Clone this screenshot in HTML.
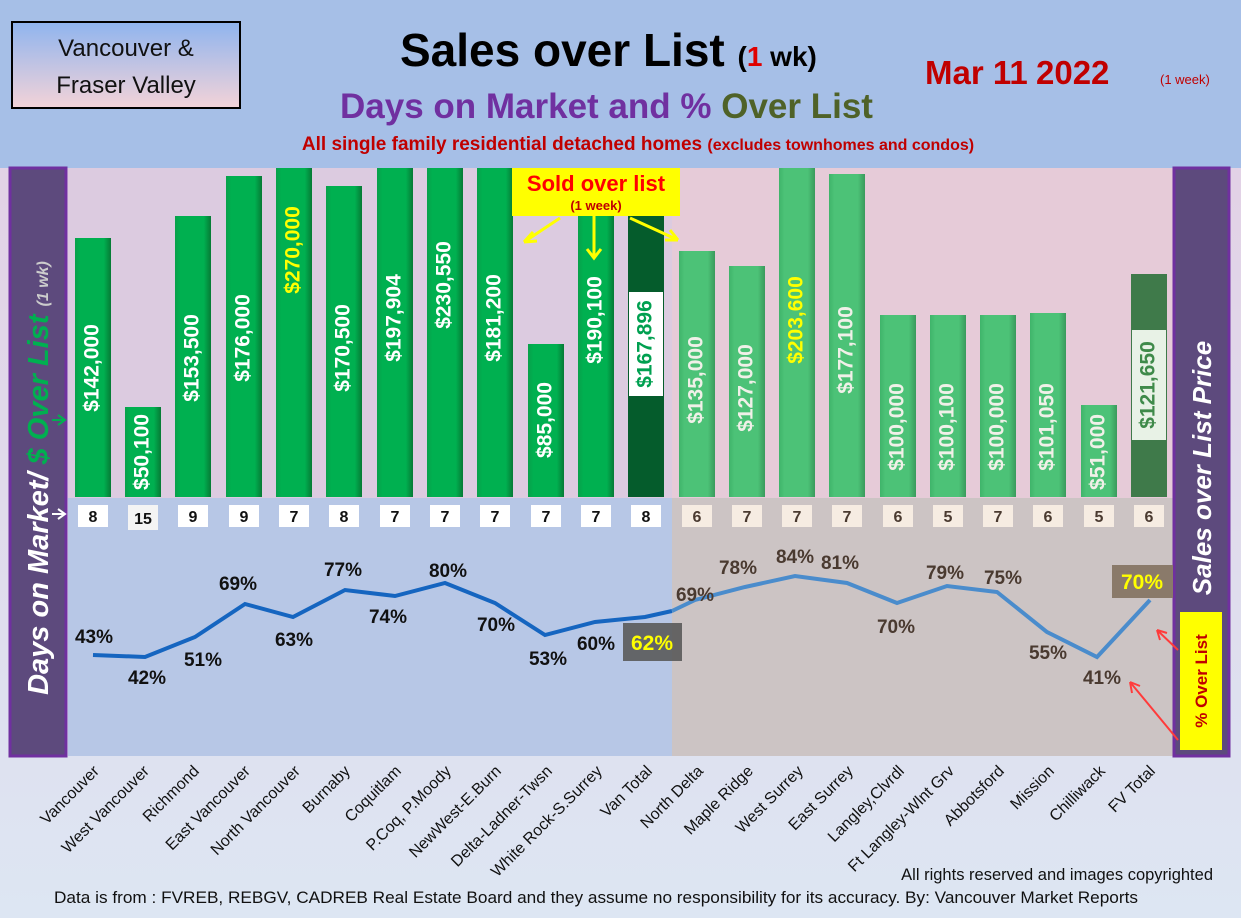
<!DOCTYPE html>
<html><head><meta charset="utf-8"><style>
html,body{margin:0;padding:0;background:#fff}
svg{display:block;font-family:"Liberation Sans",Arial,sans-serif}
.bl{font-weight:bold;font-size:21px;fill:#fff;text-anchor:middle;dominant-baseline:middle}
.d{font-weight:bold;font-size:16px;text-anchor:middle;fill:#111}
.p{font-weight:bold;font-size:19px;text-anchor:middle;fill:#111}
.pr{font-weight:bold;font-size:19px;text-anchor:middle;fill:#4a3a30}
.x{font-size:16px;text-anchor:end;fill:#111}
</style></head><body>
<svg width="1241" height="918" viewBox="0 0 1241 918" xmlns="http://www.w3.org/2000/svg">
<defs>
<linearGradient id="bg" x1="0" y1="0" x2="0" y2="1"><stop offset="0" stop-color="#e3cde3"/><stop offset="1" stop-color="#dde6f3"/></linearGradient>
<linearGradient id="g1" x1="0" x2="1"><stop offset="0" stop-color="#08a04a"/><stop offset="0.15" stop-color="#00b050"/><stop offset="0.8" stop-color="#00b050"/><stop offset="1" stop-color="#067a35"/></linearGradient>
<linearGradient id="g2" x1="0" x2="1"><stop offset="0" stop-color="#3fb46a"/><stop offset="0.15" stop-color="#4cc277"/><stop offset="0.8" stop-color="#4cc277"/><stop offset="1" stop-color="#3a9a5c"/></linearGradient>
<linearGradient id="hb" x1="0" y1="0" x2="0" y2="1"><stop offset="0" stop-color="#8fb4ee"/><stop offset="1" stop-color="#f3d3d8"/></linearGradient>
</defs>
<rect width="1241" height="918" fill="url(#bg)"/>
<rect x="0" y="0" width="1241" height="168" fill="#a6bfe7"/>
<rect x="12" y="22" width="228" height="86" fill="url(#hb)" stroke="#000" stroke-width="2"/>
<text x="126" y="56" font-size="24" text-anchor="middle" fill="#111">Vancouver &amp;</text>
<text x="126" y="93" font-size="24" text-anchor="middle" fill="#111">Fraser Valley</text>
<text x="400" y="66" font-size="46" font-weight="bold" fill="#000">Sales over List <tspan font-size="28">(<tspan fill="#e00000">1</tspan> wk)</tspan></text>
<text x="340" y="118" font-size="35" font-weight="bold" fill="#7030a0">Days on Market and % <tspan fill="#4f6228">Over List</tspan></text>
<text x="638" y="150" font-size="19" font-weight="bold" fill="#c00000" text-anchor="middle">All single family residential detached homes <tspan font-size="16">(excludes townhomes and condos)</tspan></text>
<text x="925" y="84" font-size="33" font-weight="bold" fill="#c00000">Mar 11</text>
<text x="1036" y="84" font-size="33" font-weight="bold" fill="#c00000">2022</text>
<text x="1160" y="84" font-size="13" fill="#c00000">(1 week)</text>
<rect x="68" y="168" width="1105" height="330" fill="#dccbe0"/>
<rect x="672" y="168" width="501" height="330" fill="#e6cbd8"/>
<rect x="68" y="498" width="604" height="258" fill="#b7c7e6"/>
<rect x="672" y="498" width="501" height="258" fill="#ccc4c4"/>
<rect x="10" y="168" width="56" height="588" fill="#5d4a7d" stroke="#7030a0" stroke-width="3"/>
<rect x="1174" y="168" width="55" height="588" fill="#5d4a7d" stroke="#7030a0" stroke-width="3"/>
<text transform="translate(48,478) rotate(-90)" text-anchor="middle" font-size="29" font-weight="bold" font-style="italic" fill="#fff">Days on Market/ <tspan fill="#00b050">$ Over List</tspan> <tspan font-size="16" fill="#ccc">(1 wk)</tspan></text>
<text transform="translate(1211,468) rotate(-90)" text-anchor="middle" font-size="26" font-weight="bold" font-style="italic" fill="#fff">Sales over List Price</text>
<g>
<rect x="75" y="238" width="36" height="259" fill="url(#g1)"/>
<rect x="125" y="407" width="36" height="90" fill="url(#g1)"/>
<rect x="175" y="216" width="36" height="281" fill="url(#g1)"/>
<rect x="226" y="176" width="36" height="321" fill="url(#g1)"/>
<rect x="276" y="168" width="36" height="329" fill="url(#g1)"/>
<rect x="326" y="186" width="36" height="311" fill="url(#g1)"/>
<rect x="377" y="168" width="36" height="329" fill="url(#g1)"/>
<rect x="427" y="168" width="36" height="329" fill="url(#g1)"/>
<rect x="477" y="168" width="36" height="329" fill="url(#g1)"/>
<rect x="528" y="344" width="36" height="153" fill="url(#g1)"/>
<rect x="578" y="168" width="36" height="329" fill="url(#g1)"/>
<rect x="628" y="168" width="36" height="329" fill="#055c2c"/>
<rect x="679" y="251" width="36" height="246" fill="url(#g2)"/>
<rect x="729" y="266" width="36" height="231" fill="url(#g2)"/>
<rect x="779" y="168" width="36" height="329" fill="url(#g2)"/>
<rect x="829" y="174" width="36" height="323" fill="url(#g2)"/>
<rect x="880" y="315" width="36" height="182" fill="url(#g2)"/>
<rect x="930" y="315" width="36" height="182" fill="url(#g2)"/>
<rect x="980" y="315" width="36" height="182" fill="url(#g2)"/>
<rect x="1030" y="313" width="36" height="184" fill="url(#g2)"/>
<rect x="1081" y="405" width="36" height="92" fill="url(#g2)"/>
<rect x="1131" y="274" width="36" height="223" fill="#3f7a4a"/>
<rect x="629" y="292" width="34" height="104" fill="#fff"/>
<rect x="1132" y="330" width="34" height="110" fill="#e8f2e6"/>
</g>
<g class="bl">
<text transform="translate(93,368) rotate(-90)">$142,000</text>
<text transform="translate(143,452) rotate(-90)">$50,100</text>
<text transform="translate(193,358) rotate(-90)">$153,500</text>
<text transform="translate(244,338) rotate(-90)">$176,000</text>
<text transform="translate(294,250) rotate(-90)" fill="#ffff00">$270,000</text>
<text transform="translate(344,348) rotate(-90)">$170,500</text>
<text transform="translate(395,318) rotate(-90)">$197,904</text>
<text transform="translate(445,285) rotate(-90)">$230,550</text>
<text transform="translate(495,318) rotate(-90)">$181,200</text>
<text transform="translate(546,420) rotate(-90)">$85,000</text>
<text transform="translate(596,320) rotate(-90)">$190,100</text>
<text transform="translate(646,344) rotate(-90)" fill="#00a050">$167,896</text>
<text transform="translate(697,380) rotate(-90)" fill="#f0f0e8">$135,000</text>
<text transform="translate(747,388) rotate(-90)" fill="#f0f0e8">$127,000</text>
<text transform="translate(797,320) rotate(-90)" fill="#ffff00">$203,600</text>
<text transform="translate(847,350) rotate(-90)" fill="#f0f0e8">$177,100</text>
<text transform="translate(898,427) rotate(-90)" fill="#f0f0e8">$100,000</text>
<text transform="translate(948,427) rotate(-90)" fill="#f0f0e8">$100,100</text>
<text transform="translate(998,427) rotate(-90)" fill="#f0f0e8">$100,000</text>
<text transform="translate(1048,427) rotate(-90)" fill="#f0f0e8">$101,050</text>
<text transform="translate(1099,452) rotate(-90)" fill="#f0f0e8">$51,000</text>
<text transform="translate(1149,385) rotate(-90)" fill="#3f8a4a">$121,650</text>
</g>
<rect x="512" y="168" width="168" height="48" fill="#ffff00"/>
<text x="596" y="191" font-size="22" font-weight="bold" fill="#ff0000" text-anchor="middle">Sold over list</text>
<text x="596" y="210" font-size="13" font-weight="bold" fill="#c00000" text-anchor="middle">(1 week)</text>
<g stroke="#ffff00" stroke-width="3" fill="none">
<path d="M560 218 L524 242 M524 242 L533 232 M524 242 L537 241"/>
<path d="M594 216 L594 258 M587 249 L594 258 L601 249"/>
<path d="M630 218 L678 240 M678 240 L665 240 M678 240 L670 230"/>
</g>
<path d="M52 420 L64 420 M58 415 L65 420 L58 425" stroke="#00b050" stroke-width="2" fill="none"/>
<path d="M52 514 L64 514 M58 509 L65 514 L58 519" stroke="#fff" stroke-width="2" fill="none"/>
<g>
<rect x="78" y="505" width="30" height="22" fill="#fff"/><rect x="128" y="505" width="30" height="25" fill="#f4f4f4"/><rect x="178" y="505" width="30" height="22" fill="#fff"/><rect x="229" y="505" width="30" height="22" fill="#fff"/><rect x="279" y="505" width="30" height="22" fill="#fff"/><rect x="329" y="505" width="30" height="22" fill="#fff"/><rect x="380" y="505" width="30" height="22" fill="#fff"/><rect x="430" y="505" width="30" height="22" fill="#fff"/><rect x="480" y="505" width="30" height="22" fill="#fff"/><rect x="531" y="505" width="30" height="22" fill="#fff"/><rect x="581" y="505" width="30" height="22" fill="#fff"/><rect x="631" y="505" width="30" height="22" fill="#fff"/>
<rect x="682" y="505" width="30" height="22" fill="#f6ece2"/><rect x="732" y="505" width="30" height="22" fill="#f6ece2"/><rect x="782" y="505" width="30" height="22" fill="#f6ece2"/><rect x="832" y="505" width="30" height="22" fill="#f6ece2"/><rect x="883" y="505" width="30" height="22" fill="#f6ece2"/><rect x="933" y="505" width="30" height="22" fill="#f6ece2"/><rect x="983" y="505" width="30" height="22" fill="#f6ece2"/><rect x="1033" y="505" width="30" height="22" fill="#f6ece2"/><rect x="1084" y="505" width="30" height="22" fill="#f6ece2"/><rect x="1134" y="505" width="30" height="22" fill="#f6ece2"/>
</g>
<g class="d">
<text x="93" y="522">8</text><text x="143" y="524">15</text><text x="193" y="522">9</text><text x="244" y="522">9</text><text x="294" y="522">7</text><text x="344" y="522">8</text><text x="395" y="522">7</text><text x="445" y="522">7</text><text x="495" y="522">7</text><text x="546" y="522">7</text><text x="596" y="522">7</text><text x="646" y="522">8</text>
<text x="697" y="522" fill="#4a3a30">6</text><text x="747" y="522" fill="#4a3a30">7</text><text x="797" y="522" fill="#4a3a30">7</text><text x="847" y="522" fill="#4a3a30">7</text><text x="898" y="522" fill="#4a3a30">6</text><text x="948" y="522" fill="#4a3a30">5</text><text x="998" y="522" fill="#4a3a30">7</text><text x="1048" y="522" fill="#4a3a30">6</text><text x="1099" y="522" fill="#4a3a30">5</text><text x="1149" y="522" fill="#4a3a30">6</text>
</g>
<polyline points="93,655 145,657 195,637 245,604 293,617 345,590 395,596 445,583 495,603 545,635 595,622 645,617 672,611" fill="none" stroke="#1565c0" stroke-width="4"/>
<polyline points="672,611 695,600 745,587 795,576 847,583 897,603 947,586 997,592 1047,632 1097,657 1150,600" fill="none" stroke="#4a8ccc" stroke-width="4"/>
<g class="p">
<text x="94" y="643">43%</text><text x="147" y="684">42%</text><text x="203" y="666">51%</text><text x="238" y="590">69%</text><text x="294" y="646">63%</text><text x="343" y="576">77%</text><text x="388" y="623">74%</text><text x="448" y="577">80%</text><text x="496" y="631">70%</text><text x="548" y="665">53%</text><text x="596" y="650">60%</text>
</g>
<rect x="623" y="623" width="59" height="38" fill="#5a5a5a" opacity="0.9"/>
<text x="652" y="650" font-size="21" font-weight="bold" fill="#ffff00" text-anchor="middle">62%</text>
<g class="pr">
<text x="695" y="601">69%</text><text x="738" y="574">78%</text><text x="795" y="563">84%</text><text x="840" y="569">81%</text><text x="896" y="633">70%</text><text x="945" y="579">79%</text><text x="1003" y="584">75%</text><text x="1048" y="659">55%</text><text x="1102" y="684">41%</text>
</g>
<rect x="1112" y="565" width="61" height="33" fill="#8a7a6a"/>
<text x="1142" y="589" font-size="21" font-weight="bold" fill="#ffff00" text-anchor="middle">70%</text>
<rect x="1180" y="612" width="42" height="138" fill="#ffff00"/>
<text transform="translate(1207,681) rotate(-90)" text-anchor="middle" font-size="17" font-weight="bold" fill="#c00000">% Over List</text>
<g stroke="#ff3b3b" stroke-width="2" fill="none">
<path d="M1178 650 L1157 630 M1157 630 L1160 640 M1157 630 L1167 633"/>
<path d="M1178 740 L1130 682 M1130 682 L1132 693 M1130 682 L1140 686"/>
</g>
<g class="x">
<text transform="translate(100,772) rotate(-45)">Vancouver</text>
<text transform="translate(150,772) rotate(-45)">West Vancouver</text>
<text transform="translate(200,772) rotate(-45)">Richmond</text>
<text transform="translate(251,772) rotate(-45)">East Vancouver</text>
<text transform="translate(301,772) rotate(-45)">North Vancouver</text>
<text transform="translate(351,772) rotate(-45)">Burnaby</text>
<text transform="translate(402,772) rotate(-45)">Coquitlam</text>
<text transform="translate(452,772) rotate(-45)">P.Coq, P.Moody</text>
<text transform="translate(502,772) rotate(-45)">NewWest-E.Burn</text>
<text transform="translate(553,772) rotate(-45)">Delta-Ladner-Twsn</text>
<text transform="translate(603,772) rotate(-45)">White Rock-S.Surrey</text>
<text transform="translate(653,772) rotate(-45)">Van Total</text>
<text transform="translate(704,772) rotate(-45)">North Delta</text>
<text transform="translate(754,772) rotate(-45)">Maple Ridge</text>
<text transform="translate(804,772) rotate(-45)">West Surrey</text>
<text transform="translate(854,772) rotate(-45)">East Surrey</text>
<text transform="translate(905,772) rotate(-45)">Langley,Clvrdl</text>
<text transform="translate(955,772) rotate(-45)">Ft Langley-Wlnt Grv</text>
<text transform="translate(1005,772) rotate(-45)">Abbotsford</text>
<text transform="translate(1055,772) rotate(-45)">Mission</text>
<text transform="translate(1106,772) rotate(-45)">Chilliwack</text>
<text transform="translate(1156,772) rotate(-45)">FV Total</text>
</g>
<text x="1213" y="880" font-size="16.5" text-anchor="end" fill="#111">All rights reserved and  images copyrighted</text>
<text x="54" y="903" font-size="17" fill="#111" textLength="1084" lengthAdjust="spacingAndGlyphs">Data is from : FVREB, REBGV, CADREB Real Estate Board and they assume no responsibility for its accuracy. By: Vancouver Market Reports</text>
</svg>
</body></html>
